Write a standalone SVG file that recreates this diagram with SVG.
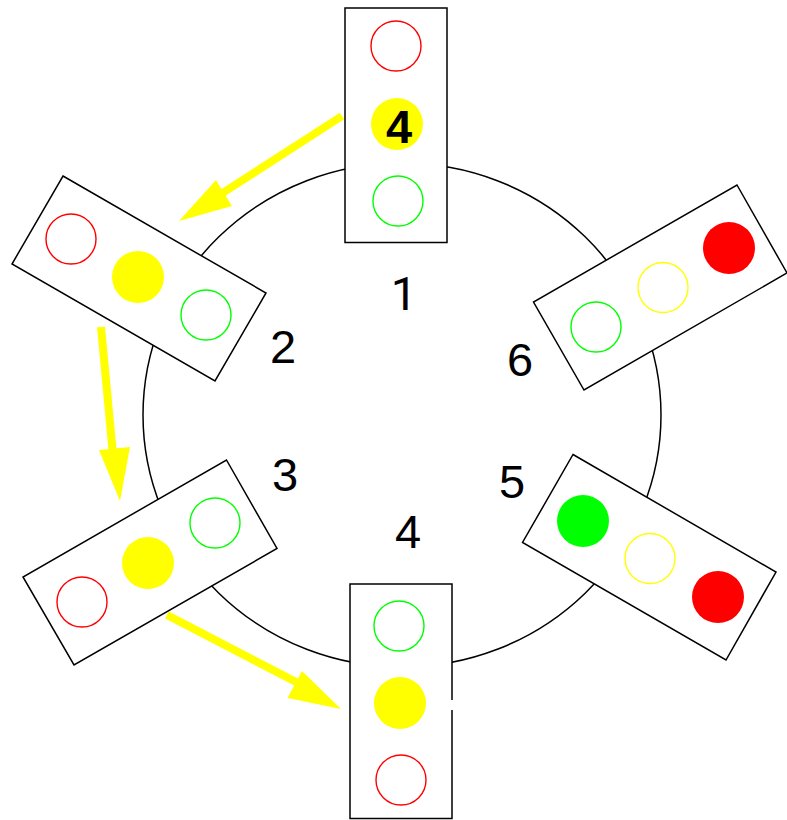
<svg xmlns="http://www.w3.org/2000/svg" width="787" height="820" viewBox="0 0 787 820">
<style>
.box{fill:#fff;stroke:#000;stroke-width:1.5}
.r{fill:none;stroke:#f00;stroke-width:1.4}
.y{fill:none;stroke:#ff0;stroke-width:1.4}
.g{fill:none;stroke:#0f0;stroke-width:1.4}
.R{fill:#f00}.Y{fill:#ff0}.G{fill:#0f0}
text{font-family:"Liberation Sans",Arial,sans-serif;font-size:47px;fill:#000;text-anchor:middle}
.a{fill:none;stroke:#ff0;stroke-width:8}
.h{fill:#ff0}
</style>
<rect width="787" height="820" fill="#fff"/>
<g id="connectors">
<ellipse cx="402" cy="415" rx="259" ry="252" fill="none" stroke="#000" stroke-width="1.5"/>
<path class="a" d="M342 116L207 203"/><polygon class="h" points="179,221 216,180 232,206"/>
<path class="a" d="M101 327L113 455"/><polygon class="h" points="120,501 99,450 130,447"/>
<path class="a" d="M167 615L300 684"/><polygon class="h" points="341,709 287.500,698 302,671"/>
</g>
<g id="light1"><rect class="box" x="345" y="8" width="102" height="234.500"/>
<circle class="r" cx="396" cy="46" r="25"/><circle class="Y" cx="397" cy="124" r="26"/><circle class="g" cx="398" cy="201" r="25"/>
<text x="399" y="143" font-weight="bold">4</text></g>
<g id="light2"><polygon class="box" points="63,176 266,293 215,381 12,264"/>
<circle class="r" cx="71" cy="239" r="25"/><circle class="Y" cx="138" cy="277" r="26"/><circle class="g" cx="206" cy="315" r="25"/></g>
<g id="light3"><polygon class="box" points="226.500,460 277,548.500 74,665 23,577"/>
<circle class="g" cx="215" cy="523" r="25"/><circle class="Y" cx="148" cy="563" r="26"/><circle class="r" cx="82" cy="602" r="25"/></g>
<g id="light4"><rect class="box" x="350" y="584" width="102" height="234.500"/>
<path d="M452 700V710" stroke="#fff" stroke-width="3"/>
<circle class="g" cx="399" cy="626" r="25"/><circle class="Y" cx="400" cy="703" r="26"/><circle class="r" cx="401" cy="780" r="25"/></g>
<g id="light5"><polygon class="box" points="573,454.500 776,572 726,660 522.500,542.500"/>
<circle class="G" cx="583" cy="521" r="26"/><circle class="y" cx="650" cy="558.500" r="25"/><circle class="R" cx="718" cy="597" r="26"/></g>
<g id="light6"><polygon class="box" points="737,185 787,273 584,390 533.500,302"/>
<circle class="R" cx="729" cy="248" r="26"/><circle class="y" cx="663" cy="287.500" r="25"/><circle class="g" cx="596" cy="327" r="25"/></g>
<g id="labels">
<text x="404" y="310" style="font-family:Roboto,Arial,sans-serif">1</text><text x="283" y="363">2</text><text x="285" y="491">3</text><text x="408" y="548">4</text><text x="512" y="498">5</text><text x="520" y="376">6</text>
</g>
</svg>
